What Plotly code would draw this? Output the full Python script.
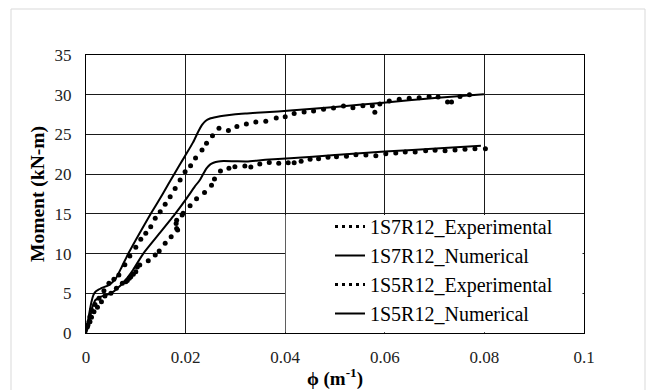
import plotly.graph_objects as go

# ---- data ----
exp7_x = [0.0003, 0.0006, 0.0008, 0.0011, 0.0018, 0.0026, 0.0036, 0.0046, 0.0056, 0.0066,
          0.0078, 0.0088, 0.0100, 0.0110, 0.0120, 0.0130, 0.0139, 0.0149, 0.0159, 0.0169,
          0.0179, 0.0189, 0.0199, 0.0210, 0.0220, 0.0233, 0.0242, 0.0254, 0.0267, 0.0286,
          0.0303, 0.0322, 0.0341, 0.0361, 0.0382, 0.0400, 0.0418, 0.0438, 0.0457, 0.0477,
          0.0497, 0.0517, 0.0536, 0.0556, 0.0575, 0.0580, 0.0590, 0.0609, 0.0629, 0.0649,
          0.0669, 0.0689, 0.0707, 0.0726, 0.0734, 0.0751, 0.0770]
exp7_y = [0.8, 1.43, 2.06, 2.9, 3.6, 4.37, 5.33, 6.26, 6.76, 7.3,
          8.6, 9.7, 10.79, 11.8, 12.55, 13.38, 14.44, 15.27, 16.2, 17.16,
          18.2, 19.26, 20.3, 21.05, 22.03, 23.04, 23.88, 24.84, 25.77, 25.5,
          26.0, 26.3, 26.56, 26.65, 27.07, 27.23, 27.65, 27.82, 27.95, 28.16,
          28.33, 28.58, 28.37, 28.62, 28.62, 27.78, 28.83, 29.2, 29.42, 29.54,
          29.63, 29.76, 29.71, 29.08, 29.08, 29.76, 30.0]

num7_x = [0, 0.0002, 0.0006, 0.0011, 0.0015, 0.0019, 0.0025, 0.0030, 0.0046, 0.0053,
          0.0060, 0.0072, 0.0085, 0.0107, 0.0130, 0.0154, 0.0177, 0.0199, 0.0215, 0.0225,
          0.0233, 0.0240, 0.0249, 0.0262, 0.0276, 0.0300, 0.0323, 0.0360, 0.0410, 0.0500,
          0.0597, 0.0700, 0.0799]
num7_y = [0, 0.8, 2.27, 3.94, 4.8, 5.2, 5.45, 5.63, 6.04, 6.4,
          6.88, 8.35, 10.0, 12.5, 15.0, 17.5, 20.0, 22.3, 24.0, 25.3,
          26.2, 26.7, 27.0, 27.2, 27.36, 27.55, 27.65, 27.8, 28.0, 28.45,
          29.0, 29.6, 30.05]

exp5_x = [0.0004, 0.0008, 0.0011, 0.0016, 0.0023, 0.0031, 0.0038, 0.0050, 0.0061, 0.0073,
          0.0080, 0.0083, 0.0087, 0.0090, 0.0095, 0.0100, 0.0103, 0.0108, 0.0125, 0.0139,
          0.0147, 0.0159, 0.0171, 0.0184, 0.0182, 0.0181, 0.0182, 0.0193, 0.0195, 0.0209,
          0.0222, 0.0238, 0.0252, 0.0258, 0.0270, 0.0287, 0.0299, 0.0319, 0.0331, 0.0349,
          0.0368, 0.0387, 0.0406, 0.0418, 0.0432, 0.0450, 0.0467, 0.0486, 0.0503, 0.0523,
          0.0542, 0.0562, 0.0582, 0.0602, 0.0622, 0.0641, 0.0661, 0.0682, 0.0701, 0.0721,
          0.0741, 0.0761, 0.0781, 0.0802]
exp5_y = [1.0, 1.43, 1.97, 2.68, 3.23, 3.94, 4.66, 5.0, 5.63, 6.26,
          6.46, 6.6, 6.9, 7.09, 7.4, 7.72, 8.3, 8.56, 9.1, 9.82,
          10.32, 11.29, 12.12, 12.96, 13.17, 13.8, 14.2, 14.85, 15.07, 16.03,
          16.9, 17.7, 18.6, 19.39, 20.4, 20.73, 20.94, 21.02, 20.9, 21.27,
          21.48, 21.36, 21.44, 21.44, 21.61, 21.87, 21.95, 22.12, 22.2, 22.25,
          22.45, 22.41, 22.32, 22.57, 22.66, 22.79, 22.79, 22.95, 23.0, 22.95,
          23.04, 23.12, 23.2, 23.2]

num5_x = [0, 0.0003, 0.0006, 0.0010, 0.0013, 0.0016, 0.0019, 0.0025, 0.0030, 0.0046,
          0.0055, 0.0063, 0.0073, 0.0083, 0.0095, 0.0115, 0.0147, 0.0179, 0.0202, 0.0218,
          0.0229, 0.0236, 0.0242, 0.0249, 0.0256, 0.0266, 0.0276, 0.0300, 0.0323, 0.0360,
          0.0410, 0.0500, 0.0600, 0.0711, 0.0793]
num5_y = [0, 0.5, 1.3, 2.5, 3.3, 3.8, 4.15, 4.4, 4.57, 4.91,
          5.2, 5.63, 6.2, 6.95, 8.0, 10.0, 12.5, 15.0, 16.95, 18.4,
          19.3, 20.1, 20.73, 21.2, 21.44, 21.6, 21.65, 21.62, 21.6, 21.8,
          22.0, 22.4, 22.85, 23.25, 23.58]

names = ["1S7R12_Experimental", "1S7R12_Numerical", "1S5R12_Experimental", "1S5R12_Numerical"]
x_ticks = [0, 0.02, 0.04, 0.06, 0.08, 0.1]
y_ticks = [0, 5, 10, 15, 20, 25, 30, 35]

FONT = "Liberation Serif"
INK = "#000000"

# layout geometry (figure px; page adds an 8px body margin)
W, H = 646, 382
L, T, PW, PH = 78, 47, 498, 278

fig = go.Figure()

fig.add_trace(go.Scatter(x=exp7_x, y=exp7_y, mode="markers", showlegend=False,
                         marker=dict(symbol="circle", size=5, color=INK)))
fig.add_trace(go.Scatter(x=num7_x, y=num7_y, mode="lines", showlegend=False,
                         line=dict(color=INK, width=2, shape="spline", smoothing=0.5)))
fig.add_trace(go.Scatter(x=exp5_x, y=exp5_y, mode="markers", showlegend=False,
                         marker=dict(symbol="circle", size=5, color=INK)))
fig.add_trace(go.Scatter(x=num5_x, y=num5_y, mode="lines", showlegend=False,
                         line=dict(color=INK, width=2, shape="spline", smoothing=0.5)))

for i, nm in enumerate(names):
    if i % 2 == 0:
        ln = dict(color=INK, width=3, dash="3px,4px")
    else:
        ln = dict(color=INK, width=2)
    fig.add_trace(go.Scatter(x=[None], y=[None], mode="lines", name=nm, line=ln))

# white area behind the legend, hiding the gridlines there
fig.add_shape(type="rect", xref="x", yref="y", x0=0.0401, x1=0.0997, y0=0.1, y1=14.85,
              fillcolor="white", line=dict(width=0), layer="between")

# outer light chart frame
fig.add_shape(type="rect", xref="paper", yref="paper",
              x0=(3 - L) / PW, x1=(637 - L) / PW, y0=-(H + 10 - T - PH) / PH, y1=(T + PH - 1) / PH,
              line=dict(color="#d9d9d9", width=1), fillcolor="rgba(0,0,0,0)", layer="below")

fig.update_layout(
    width=W, height=H,
    margin=dict(l=L, r=W - L - PW, t=T, b=H - T - PH, autoexpand=False),
    paper_bgcolor="white", plot_bgcolor="white",
    font=dict(family=FONT, color=INK, size=17),
    legend=dict(x=(322 - L) / PW, y=(T + PH - 199) / PH, xanchor="left", yanchor="top",
                bgcolor="rgba(0,0,0,0)", borderwidth=0,
                font=dict(family=FONT, size=20, color=INK),
                itemwidth=30, tracegroupgap=0),
    xaxis=dict(range=[0, 0.1], tickvals=x_ticks, ticktext=[str(v) for v in x_ticks],
               showgrid=True, gridcolor="#1a1a1a", gridwidth=1,
               showline=True, linecolor="#000000", linewidth=1, mirror=True,
               ticks="", ticklabelstandoff=9, zeroline=False, automargin=False,
               tickfont=dict(family=FONT, size=17, color="#222222"),
               title=dict(text="<b>ϕ (m<sup>-1</sup>)</b>", font=dict(family=FONT, size=19, color=INK),
                          standoff=6)),
    yaxis=dict(range=[0, 35], tickvals=y_ticks,
               showgrid=True, gridcolor="#1a1a1a", gridwidth=1,
               showline=True, linecolor="#000000", linewidth=1, mirror=True,
               ticks="", ticklabelstandoff=10, zeroline=False, automargin=False,
               tickfont=dict(family=FONT, size=17, color="#222222"),
               title=dict(text="<b>Moment (kN-m)</b>", font=dict(family=FONT, size=19.5, color=INK),
                          standoff=4)),
)

fig.write_html("out.html")
